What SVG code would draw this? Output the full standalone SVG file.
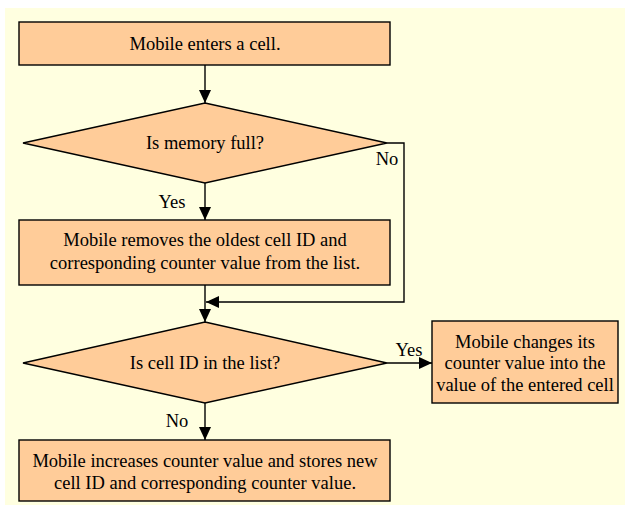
<svg xmlns="http://www.w3.org/2000/svg" width="630" height="510" viewBox="0 0 630 510">
<style>
.bg{fill:#FFFFE0;}
.n{fill:#FFCC99;stroke:#000;stroke-width:1.4;}
.t{font-family:"Liberation Serif","Times New Roman",serif;font-size:18.5px;fill:#000;text-anchor:middle;}
.c{fill:none;stroke:#000;stroke-width:1.4;}
</style>
<defs>
<marker id="ah" markerUnits="userSpaceOnUse" markerWidth="14" markerHeight="12" refX="13" refY="6" orient="auto">
<path d="M0,0 L13,6 L0,12 z" fill="#000"/>
</marker>
</defs>
<rect class="bg" x="5" y="8" width="620" height="497"/>
<g id="connectors">
<path class="c" d="M205,65 V103" marker-end="url(#ah)"/>
<path class="c" d="M205,183 V220" marker-end="url(#ah)"/>
<path class="c" d="M387,143 H404 V302 H206" marker-end="url(#ah)"/>
<path class="c" d="M205,285 V322" marker-end="url(#ah)"/>
<path class="c" d="M387,363 H432" marker-end="url(#ah)"/>
<path class="c" d="M205,403 V440" marker-end="url(#ah)"/>
<text class="t" x="387" y="165">No</text>
<text class="t" x="172" y="208">Yes</text>
<text class="t" x="409" y="356">Yes</text>
<text class="t" x="177" y="427">No</text>
</g>
<g id="start">
<rect class="n" x="19" y="22" width="371" height="43"/>
<text class="t" x="205" y="50">Mobile enters a cell.</text>
</g>
<g id="memoryFull">
<polygon class="n" points="205,103 387,143 205,183 23,143"/>
<text class="t" x="205" y="149">Is memory full?</text>
</g>
<g id="removeOldest">
<rect class="n" x="19" y="220" width="371" height="65"/>
<text class="t" x="205" y="246">Mobile removes the oldest cell ID and</text>
<text class="t" x="205" y="269">corresponding counter value from the list.</text>
</g>
<g id="inList">
<polygon class="n" points="205,322 387,363 205,403 23,363"/>
<text class="t" x="205" y="369">Is cell ID in the list?</text>
</g>
<g id="changeCounter">
<rect class="n" x="432" y="321" width="186" height="82"/>
<text class="t" x="525" y="348">Mobile changes its</text>
<text class="t" x="525" y="369">counter value into the</text>
<text class="t" x="525" y="391">value of the entered cell</text>
</g>
<g id="increaseCounter">
<rect class="n" x="19" y="440" width="371" height="61"/>
<text class="t" x="205" y="467">Mobile increases counter value and stores new</text>
<text class="t" x="205" y="489">cell ID and corresponding counter value.</text>
</g>
</svg>
